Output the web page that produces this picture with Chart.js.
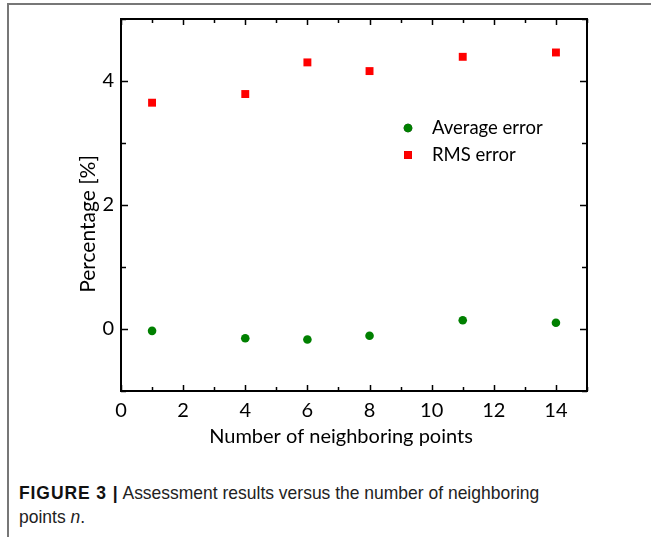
<!DOCTYPE html>
<html>
<head>
<meta charset="utf-8">
<script src="https://cdn.jsdelivr.net/npm/chart.js@4"></script>
<style>
  html, body { margin: 0; padding: 0; background: #fff; }
  body { width: 651px; height: 537px; position: relative; overflow: hidden; }
  #frame { position: absolute; left: 7px; top: 3px; right: 0; bottom: 0;
           border-top: 2px solid #777; border-left: 2px solid #777; }
  #chart { position: absolute; left: 0; top: 0; }
  #caption { position: absolute; left: 19px; top: 481px; width: 620px;
             font-family: "Liberation Sans", Arial, sans-serif; font-size: 19px;
             line-height: 24px; color: #222; transform: scaleX(0.92); transform-origin: 0 0;
             white-space: nowrap; }
  #caption b { color: #111; letter-spacing: 1px; }
</style>
</head>
<body>
<div id="frame"></div>
<canvas id="chart" width="651" height="460"></canvas>
<div id="caption"><b>FIGURE 3 |</b> Assessment results versus the number of neighboring<br>points <i>n</i>.</div>
<script>
// number of neighboring points
const neighbors = [1, 4, 6, 8, 11, 14];
const avgError = [-0.03, -0.15, -0.17, -0.11, 0.14, 0.10];
const rmsError = [3.65, 3.79, 4.30, 4.16, 4.39, 4.46];
const xLabels = [0, 2, 4, 6, 8, 10, 12, 14];
const yLabels = [0, 2, 4];

const FONT = "Lato, 'Open Sans', sans-serif";

const toPoints = (xs, ys) => xs.map((x, i) => ({ x: x, y: ys[i] }));

// inward ticks on all four sides, frame, axis titles and in-plot legend
const framePlugin = {
    id: 'framePlugin',
    afterDraw(chart) {
        const ctx = chart.ctx;
        const { left, right, top, bottom } = chart.chartArea;
        const xs = chart.scales.x;
        const ys = chart.scales.y;
        ctx.save();
        ctx.strokeStyle = '#000';
        ctx.lineWidth = 2;
        ctx.strokeRect(left, top, right - left, bottom - top);

        ctx.lineWidth = 1.5;
        ctx.beginPath();
        for (let v = xs.min; v <= xs.max; v++) {
            const px = Math.round(xs.getPixelForValue(v)) + 0.5;
            const len = xLabels.includes(v) ? 6 : 4;
            ctx.moveTo(px, bottom); ctx.lineTo(px, bottom - len);
            ctx.moveTo(px, top); ctx.lineTo(px, top + len);
        }
        for (let v = ys.min; v <= ys.max; v++) {
            const py = Math.round(ys.getPixelForValue(v)) + 0.5;
            const len = yLabels.includes(v) ? 7 : 5;
            ctx.moveTo(left, py); ctx.lineTo(left + len, py);
            ctx.moveTo(right, py); ctx.lineTo(right - len, py);
        }
        ctx.stroke();

        // axis titles
        ctx.fillStyle = '#000';
        ctx.textAlign = 'center';
        ctx.textBaseline = 'middle';
        ctx.font = '20px ' + FONT;
        ctx.fillText('Number of neighboring points', 341, 437);
        ctx.font = '21px ' + FONT;
        ctx.translate(88, 224);
        ctx.rotate(-Math.PI / 2);
        ctx.fillText('Percentage [%]', 0, 0);
        ctx.restore();

        // legend
        ctx.save();
        ctx.font = '18.5px ' + FONT;
        ctx.textBaseline = 'middle';
        ctx.textAlign = 'left';
        chart.data.datasets.forEach((ds, i) => {
            const y = 128 + i * 27;
            Chart.helpers.drawPoint(ctx, {
                pointStyle: ds.pointStyle,
                radius: ds.pointRadius,
                borderWidth: 0
            }, 408, y);
            ctx.fillStyle = ds.backgroundColor;
            ctx.fill();
            ctx.fillStyle = '#000';
            ctx.fillText(ds.label, 432, y);
        });
        ctx.restore();
    }
};

new Chart(document.getElementById('chart'), {
    type: 'scatter',
    data: {
        datasets: [
            {
                label: 'Average error',
                data: toPoints(neighbors, avgError),
                pointStyle: 'circle',
                pointRadius: 4.3,
                backgroundColor: '#008000',
                borderColor: '#008000',
                borderWidth: 0
            },
            {
                label: 'RMS error',
                data: toPoints(neighbors, rmsError),
                pointStyle: 'rect',
                pointRadius: 5.6,
                backgroundColor: '#ff0000',
                borderColor: '#ff0000',
                borderWidth: 0
            }
        ]
    },
    options: {
        responsive: false,
        animation: false,
        layout: { padding: { left: 0, top: 19, right: 64, bottom: 0 } },
        plugins: {
            legend: { display: false },
            tooltip: { enabled: false }
        },
        scales: {
            x: {
                type: 'linear',
                min: 0,
                max: 15,
                afterFit: (scale) => { scale.height = 69; },
                grid: { display: false, drawTicks: false },
                border: { display: false },
                ticks: {
                    stepSize: 1,
                    autoSkip: false,
                    maxRotation: 0,
                    padding: 8,
                    color: '#000',
                    font: { family: FONT, size: 20 },
                    callback: (v) => xLabels.includes(v) ? String(v) : ''
                }
            },
            y: {
                type: 'linear',
                min: -1,
                max: 5,
                afterFit: (scale) => { scale.width = 121; },
                grid: { display: false, drawTicks: false },
                border: { display: false },
                ticks: {
                    stepSize: 1,
                    autoSkip: false,
                    padding: 7,
                    color: '#000',
                    font: { family: FONT, size: 20 },
                    callback: (v) => yLabels.includes(v) ? String(v) : ''
                }
            }
        }
    },
    plugins: [framePlugin]
});
</script>
</body>
</html>
